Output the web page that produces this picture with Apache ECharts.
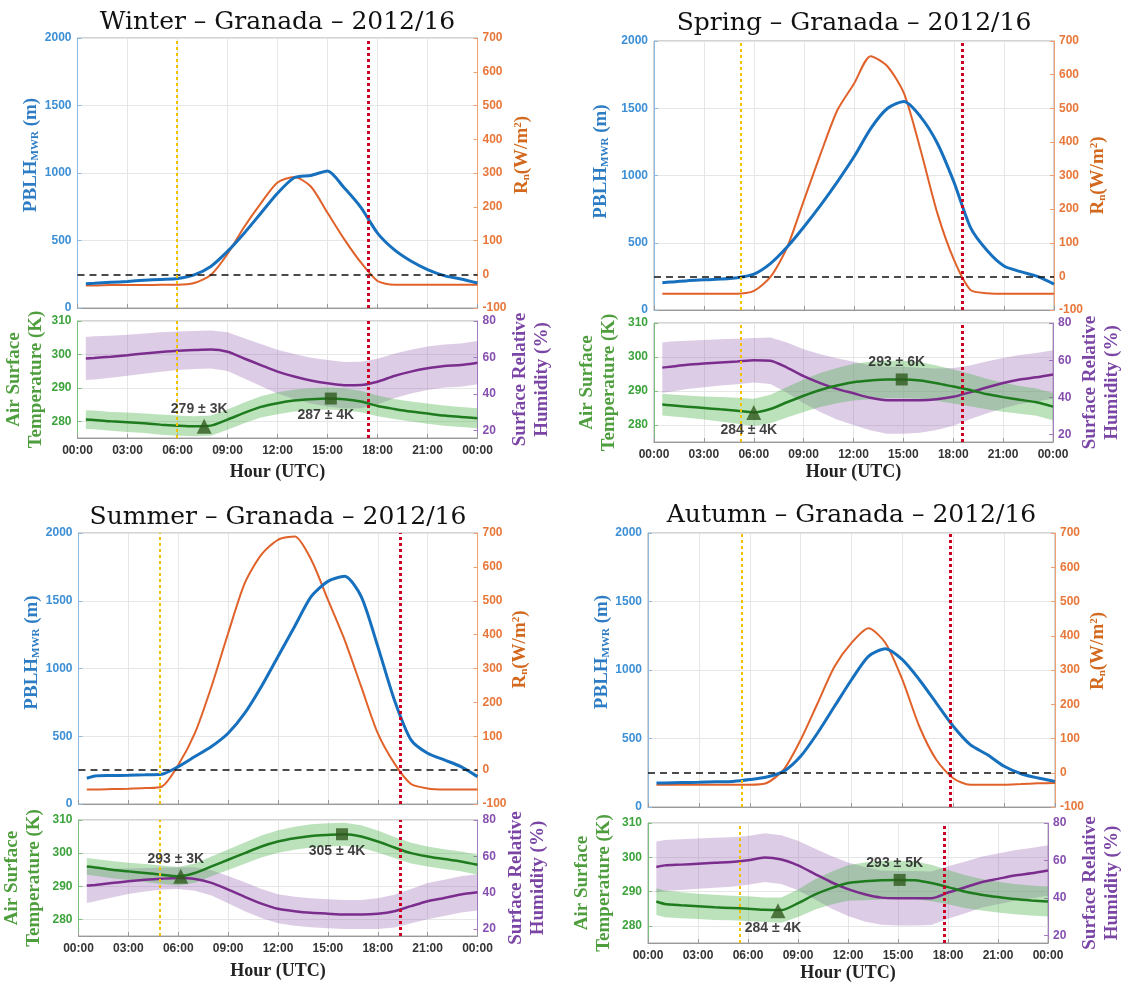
<!DOCTYPE html>
<html>
<head>
<meta charset="utf-8">
<title>PBLH, Rn, air temperature and RH – Granada 2012/16</title>
<script src="https://cdn.jsdelivr.net/npm/echarts@6.0.0/dist/echarts.min.js"></script>
<style>
  html, body { margin: 0; padding: 0; background: #fff; }
  #chart { width: 1124px; height: 983px; }
</style>
</head>
<body>
<div id="chart"></div>
<script>
// hour of day (UTC) of each point of the mean diurnal cycles
var hours = [0.5, 1, 2, 3, 4, 5, 6, 7, 8, 9, 10, 11, 12, 13, 14, 15, 16, 17, 18, 19, 20, 21, 22, 23, 24];
var hourTicks = ['00:00', '03:00', '06:00', '09:00', '12:00', '15:00', '18:00', '21:00', '00:00'];

// PBLH from the microwave radiometer (m)
var pblhWinter = [180, 183, 190, 197, 205, 212, 219, 246, 308, 419, 554, 702, 850, 965, 982, 1015, 890, 745, 555, 432, 348, 285, 240, 215, 185];
var pblhSpring = [203, 208, 218, 224, 230, 240, 267, 347, 470, 619, 780, 953, 1139, 1349, 1498, 1550, 1436, 1240, 950, 610, 440, 327, 285, 250, 193];
var pblhSummer = [190, 207, 210, 212, 215, 219, 276, 350, 424, 522, 670, 867, 1089, 1310, 1532, 1643, 1680, 1532, 1163, 768, 473, 374, 325, 276, 202];
var pblhAutumn = [175, 176, 178, 180, 184, 187, 200, 219, 260, 370, 540, 735, 929, 1100, 1155, 1075, 929, 759, 589, 455, 383, 297, 243, 212, 187];

// net radiation Rn (W/m2)
var rnWinter = [-33, -33, -32, -32, -32, -31, -31, -26, -2, 60, 140, 210, 272, 288, 260, 182, 104, 35, -20, -31, -31, -31, -31, -31, -31];
var rnSpring = [-52, -52, -52, -52, -52, -52, -43, -1, 88, 227, 365, 494, 573, 655, 625, 544, 375, 188, 49, -41, -50, -52, -52, -52, -52];
var rnSummer = [-57, -57, -56, -55, -53, -49, 15, 109, 247, 404, 552, 636, 680, 690, 621, 503, 385, 247, 109, 20, -41, -54, -57, -57, -57];
var rnAutumn = [-35, -35, -35, -35, -35, -35, -35, -30, 9, 96, 203, 310, 379, 422, 379, 272, 135, 38, -16, -35, -35, -35, -33, -31, -30];

// air surface temperature (K) and its standard deviation
var tempWinter = [280.5, 280.4, 280.0, 279.7, 279.4, 279.0, 278.7, 278.5, 278.7, 280.5, 282.5, 284.3, 285.4, 286.2, 286.6, 286.8, 286.6, 285.9, 284.6, 283.7, 282.9, 282.3, 281.7, 281.3, 280.9];
var tempSdWinter = [2.8, 2.8, 2.8, 2.9, 2.9, 3, 3, 3, 3, 3, 3.1, 3.2, 3.3, 3.3, 3.3, 3.3, 3.3, 3.2, 3.1, 3, 3, 3, 3, 3, 3];
var tempSpring = [286, 285.8, 285.4, 285, 284.6, 284.2, 283.7, 284.7, 286.7, 288.6, 290.3, 291.6, 292.6, 293.1, 293.4, 293.4, 293.1, 292.3, 291.3, 290.3, 289.1, 288.2, 287.4, 286.7, 285.4];
var tempSdSpring = [3.2, 3.2, 3.3, 3.4, 3.6, 3.8, 4, 4.2, 4.5, 4.8, 5, 5.2, 5.4, 5.5, 5.5, 5.5, 5.4, 5.2, 5, 4.8, 4.5, 4.3, 4.1, 4, 4];
var tempSummer = [296, 295.7, 295, 294.5, 294, 293.5, 293, 294, 296, 298, 300, 302, 303.5, 304.5, 305.2, 305.5, 305.7, 305, 303.5, 301.7, 300, 299, 298.2, 297.5, 296.5];
var tempSdSummer = [2.5, 2.5, 2.6, 2.6, 2.7, 2.8, 2.8, 2.9, 3, 3.1, 3.2, 3.3, 3.4, 3.5, 3.5, 3.5, 3.5, 3.4, 3.3, 3.2, 3.1, 3, 3, 3, 3];
var tempAutumn = [287.1, 286.4, 286, 285.7, 285.4, 285.2, 285, 284.7, 284.6, 286.6, 289.1, 291, 292.5, 293, 293.3, 293.4, 293.3, 292.5, 291.3, 290, 289.1, 288.4, 287.8, 287.4, 287.1];
var tempSdAutumn = [3.9, 3.9, 3.8, 3.7, 3.7, 3.6, 3.6, 3.6, 3.7, 4, 4.4, 4.8, 5.2, 5.5, 5.6, 5.6, 5.5, 5.3, 5, 4.8, 4.6, 4.5, 4.4, 4.4, 4.4];

// surface relative humidity (%) and its standard deviation
var rhWinter = [59.5, 59.8, 60.5, 61.3, 62.2, 63, 63.7, 64.1, 64.4, 63.2, 59.5, 55.9, 52.3, 49.6, 47.4, 45.9, 44.9, 45.0, 46.8, 49.9, 52.3, 54.1, 55.4, 55.9, 57.2];
var rhSdWinter = [11.8, 11.8, 11.5, 11.2, 11, 10.8, 10.5, 10.4, 10.4, 10.6, 11, 11.5, 12, 12.3, 12.5, 12.7, 12.7, 12.7, 12.5, 12.2, 12, 11.9, 11.8, 11.8, 11.8];
var rhSpring = [56, 56.5, 57.5, 58.2, 58.8, 59.3, 60, 59.7, 56, 51.4, 47.7, 44.6, 42.2, 39.8, 38.5, 38.5, 38.5, 39, 40.3, 42.7, 45.3, 47.7, 49.6, 50.8, 52.3];
var rhSdSpring = [13.5, 13.5, 13, 12.7, 12.4, 12.2, 12, 12.5, 13.5, 14.5, 15.5, 16.5, 17, 17.5, 18, 18, 17.5, 16.5, 15.5, 14.5, 14, 13.5, 13.2, 13, 13];
var rhSummer = [43.8, 44.2, 45.2, 46.2, 47, 47.6, 48, 47.5, 45.3, 41.6, 37.6, 33.9, 31, 29.7, 28.8, 28.3, 27.9, 27.9, 28.3, 29.7, 32.5, 35.2, 37, 38.9, 40.1];
var rhSdSummer = [9.6, 9, 8, 7, 6.5, 6, 6, 6.5, 7, 7.5, 8, 8, 8, 8, 8, 8, 8, 8, 8.5, 9, 9.5, 10, 10, 10, 10];
var rhAutumn = [56.5, 57.4, 57.8, 58.3, 58.8, 59.2, 60.1, 61.6, 60.5, 57.4, 52.9, 48.4, 44.7, 42, 40.2, 39.9, 39.9, 39.9, 42.9, 45.6, 48.4, 50.2, 52, 53.2, 54.7];
var rhSdAutumn = [13.6, 13.6, 13.5, 13.4, 13.3, 13.2, 13, 13, 13, 13.2, 13.5, 14, 14.3, 14.5, 14.5, 14.5, 14.5, 14.3, 14, 13.8, 13.6, 13.5, 13.5, 13.5, 13.5];

// sunrise / sunset (hour UTC), order: winter, spring, summer, autumn
var sunrise = [5.98, 5.2, 4.9, 5.5];
var sunset = [17.45, 18.52, 19.33, 17.8];

// temperature minimum (triangle) and maximum (square)
var tMinHour = [7.6, 6.0, 6.15, 7.8];
var tMinValue = [278.5, 283.7, 293.0, 284.4];
var tMinLabel = ['279 ± 3K', '284 ± 4K', '293 ± 3K', '284 ± 4K'];
var tMaxHour = [15.2, 14.9, 15.85, 15.1];
var tMaxValue = [286.8, 293.4, 305.7, 293.4];
var tMaxLabel = ['287 ± 4K', '293 ± 6K', '305 ± 4K', '293 ± 5K'];

var seasonNames = ['Winter', 'Spring', 'Summer', 'Autumn'];

var seasons = [
  { pblh: pblhWinter, rn: rnWinter, t: tempWinter, tSd: tempSdWinter, rh: rhWinter, rhSd: rhSdWinter },
  { pblh: pblhSpring, rn: rnSpring, t: tempSpring, tSd: tempSdSpring, rh: rhSpring, rhSd: rhSdSpring },
  { pblh: pblhSummer, rn: rnSummer, t: tempSummer, tSd: tempSdSummer, rh: rhSummer, rhSd: rhSdSummer },
  { pblh: pblhAutumn, rn: rnAutumn, t: tempAutumn, tSd: tempSdAutumn, rh: rhAutumn, rhSd: rhSdAutumn }
];

// panel placement (pixels)
var layout = [
  { left: 77.5, width: 400, top1: 38, h1: 270, top2: 321, h2: 117, tx: 277.5, ty: 22,
    gPblh: 34, gRn: 35, gT: 29, gRh: 32, gHour: 25, sPblh: 18, sRn: 18 },
  { left: 654, width: 400, top1: 41, h1: 269, top2: 323, h2: 119, tx: 854, ty: 23,
    gPblh: 43, gRn: 35, gT: 34, gRh: 26, gHour: 21, sPblh: 14, sRn: 0 },
  { left: 78.5, width: 399, top1: 533, h1: 271, top2: 820, h2: 116, tx: 278, ty: 517,
    gPblh: 37, gRn: 32, gT: 33, gRh: 28, gHour: 26, sPblh: 16, sRn: 19 },
  { left: 648, width: 407, top1: 533, h1: 274, top2: 823, h2: 120, tx: 851.5, ty: 515,
    gPblh: 35, gRn: 34, gT: 33, gRh: 31, gHour: 21, sPblh: 18, sRn: 19 }
];

var SERIF = '"Liberation Serif", "Times New Roman", serif';
var TITLE_FONT = '"DejaVu Serif", serif';
var SANS = '"Liberation Sans", Arial, sans-serif';
var C = {
  blue: '#1670BE', blueLab: '#3D8FD6', blueName: '#2E7DC4', blueAxis: '#8DB8E0',
  orange: '#E0622A', orangeLab: '#E8773A', orangeName: '#D2691E', orangeAxis: '#F0A070',
  green: '#1E7B1E', greenBand: 'rgba(80,178,80,0.38)', greenLab: '#3DA33D', greenName: '#4E9E3E', greenAxis: '#7CBF7C',
  purple: '#7B2D8E', purpleBand: 'rgba(150,95,178,0.32)', purpleLab: '#8650B0', purpleName: '#7B45A5', purpleAxis: '#A37CC0',
  marker: '#2F5A1E', grid: '#e6e6e6', frame: '#a8a8a8',
  sunrise: '#F2C200', sunset: '#CC0022'
};

function pairs(ys) {
  return hours.map(function (h, i) { return [h, ys[i]]; });
}

function hourLabel(v) {
  return hourTicks[Math.round(v / 3)];
}

function plainNumber(v) {
  return String(v);
}

function bandSeries(xi, yi, mean, sd, color) {
  var data = hours.map(function (h, i) { return [h, mean[i] - sd[i], mean[i] + sd[i]]; });
  return {
    type: 'custom', xAxisIndex: xi, yAxisIndex: yi, silent: true, clip: true, z: 1,
    data: data,
    renderItem: function (params, api) {
      if (params.dataIndex !== 0) return null;
      var upper = [], lower = [];
      for (var i = 0; i < data.length; i++) {
        upper.push(api.coord([data[i][0], data[i][2]]));
        lower.push(api.coord([data[i][0], data[i][1]]));
      }
      return { type: 'polygon', shape: { points: upper.concat(lower.reverse()) }, style: { fill: color } };
    }
  };
}

function sunLines(k) {
  return [
    { xAxis: sunrise[k], lineStyle: { color: C.sunrise, type: [3, 3], width: 2 } },
    { xAxis: sunset[k], lineStyle: { color: C.sunset, type: [3, 3], width: 3 } }
  ];
}

var option = {
  animation: false,
  backgroundColor: '#fff',
  grid: [], xAxis: [], yAxis: [], series: [], graphic: []
};

seasons.forEach(function (d, k) {
  var L = layout[k];
  var g1 = 2 * k, g2 = 2 * k + 1;
  var y0 = 4 * k;

  option.grid.push(
    { left: L.left, top: L.top1, width: L.width, height: L.h1, show: true, borderColor: C.frame, borderWidth: 1 },
    { left: L.left, top: L.top2, width: L.width, height: L.h2, show: true, borderColor: C.frame, borderWidth: 1 }
  );

  var xBase = {
    type: 'value', min: 0, max: 24, interval: 3,
    axisLine: { lineStyle: { color: '#999' } },
    axisTick: { inside: true, length: 4, lineStyle: { color: '#999' } },
    splitLine: { show: true, lineStyle: { color: C.grid } }
  };
  option.xAxis.push(
    Object.assign({ gridIndex: g1, axisLabel: { show: false } }, xBase),
    Object.assign({
      gridIndex: g2,
      name: 'Hour (UTC)', nameLocation: 'middle', nameGap: L.gHour,
      nameTextStyle: { fontFamily: SERIF, fontWeight: 'bold', fontSize: 18, color: '#222' },
      axisLabel: {
        formatter: hourLabel, fontFamily: SANS, fontWeight: 'bold', fontSize: 12, color: '#333',
        margin: 7, showMinLabel: true, showMaxLabel: true, hideOverlap: false
      }
    }, xBase)
  );

  option.yAxis.push(
    {
      gridIndex: g1, type: 'value', position: 'left', min: 0, max: 2000, interval: 500,
      name: '{m|PBLH}{s|MWR}{m| (m)}', nameLocation: 'middle', nameRotate: 90, nameGap: L.gPblh,
      nameTextStyle: {
        padding: [0, 0, 0, 2 * L.sPblh],
        rich: {
          m: { fontFamily: SERIF, fontWeight: 'bold', fontSize: 19, color: C.blueName },
          s: { fontFamily: SERIF, fontWeight: 'bold', fontSize: 11, color: C.blueName, verticalAlign: 'bottom' }
        }
      },
      axisLine: { show: true, lineStyle: { color: C.blueAxis } },
      axisTick: { show: true, inside: true, length: 4, lineStyle: { color: C.blueAxis } },
      axisLabel: { formatter: plainNumber, fontFamily: SANS, fontWeight: 'bold', fontSize: 12, color: C.blueLab, margin: 6 },
      splitLine: { show: true, lineStyle: { color: C.grid } }
    },
    {
      gridIndex: g1, type: 'value', position: 'right', min: -100, max: 700, interval: 100,
      name: '{m|R}{s|n}{m|(W/m}{p|2}{m|)}', nameLocation: 'middle', nameRotate: 90, nameGap: L.gRn,
      nameTextStyle: {
        padding: [0, 0, 0, 2 * L.sRn],
        rich: {
          m: { fontFamily: SERIF, fontWeight: 'bold', fontSize: 19, color: C.orangeName },
          s: { fontFamily: SERIF, fontWeight: 'bold', fontSize: 11, color: C.orangeName, verticalAlign: 'bottom' },
          p: { fontFamily: SERIF, fontWeight: 'bold', fontSize: 11, color: C.orangeName, verticalAlign: 'top' }
        }
      },
      axisLine: { show: true, lineStyle: { color: C.orangeAxis } },
      axisTick: { show: true, inside: true, length: 4, lineStyle: { color: C.orangeAxis } },
      axisLabel: { formatter: plainNumber, fontFamily: SANS, fontWeight: 'bold', fontSize: 12, color: C.orangeLab, margin: 5 },
      splitLine: { show: false }
    },
    {
      gridIndex: g2, type: 'value', position: 'left', min: 275, max: 310,
      name: 'Air Surface\nTemperature (K)', nameLocation: 'middle', nameRotate: 90, nameGap: L.gT,
      nameTextStyle: { fontFamily: SERIF, fontWeight: 'bold', fontSize: 19, lineHeight: 22, color: C.greenName },
      axisLine: { show: true, lineStyle: { color: C.greenAxis } },
      axisTick: { show: true, inside: true, length: 4, customValues: [280, 290, 300, 310], lineStyle: { color: C.greenAxis } },
      axisLabel: { customValues: [280, 290, 300, 310], fontFamily: SANS, fontWeight: 'bold', fontSize: 12, color: C.greenLab, margin: 6 },
      splitLine: { show: true, lineStyle: { color: C.grid } }
    },
    {
      gridIndex: g2, type: 'value', position: 'right', min: 16, max: 80,
      name: 'Surface Relative\nHumidity (%)', nameLocation: 'middle', nameRotate: 90, nameGap: L.gRh,
      nameTextStyle: { fontFamily: SERIF, fontWeight: 'bold', fontSize: 19, lineHeight: 22, color: C.purpleName },
      axisLine: { show: true, lineStyle: { color: C.purpleAxis } },
      axisTick: { show: true, inside: true, length: 4, customValues: [20, 40, 60, 80], lineStyle: { color: C.purpleAxis } },
      axisLabel: { customValues: [20, 40, 60, 80], fontFamily: SANS, fontWeight: 'bold', fontSize: 12, color: C.purpleLab, margin: 5 },
      splitLine: { show: false }
    }
  );

  // upper panel: PBLH and net radiation
  option.series.push(
    {
      type: 'line', xAxisIndex: g1, yAxisIndex: y0 + 1, data: pairs(d.rn),
      showSymbol: false, smooth: 0.25, z: 3,
      lineStyle: { color: C.orange, width: 2 },
      markLine: {
        silent: true, symbol: 'none', label: { show: false },
        data: [{ yAxis: 0, lineStyle: { color: '#111', type: [7, 5], width: 1.6 } }].concat(sunLines(k))
      }
    },
    {
      type: 'line', xAxisIndex: g1, yAxisIndex: y0, data: pairs(d.pblh),
      showSymbol: false, smooth: 0.25, z: 3,
      lineStyle: { color: C.blue, width: 3 }
    }
  );

  // lower panel: temperature and relative humidity with ±1 sd bands
  option.series.push(
    bandSeries(g2, y0 + 3, d.rh, d.rhSd, C.purpleBand),
    bandSeries(g2, y0 + 2, d.t, d.tSd, C.greenBand),
    {
      type: 'line', xAxisIndex: g2, yAxisIndex: y0 + 3, data: pairs(d.rh),
      showSymbol: false, smooth: 0.25, z: 3,
      lineStyle: { color: C.purple, width: 2.5 },
      markLine: { silent: true, symbol: 'none', label: { show: false }, data: sunLines(k) }
    },
    {
      type: 'line', xAxisIndex: g2, yAxisIndex: y0 + 2, data: pairs(d.t),
      showSymbol: false, smooth: 0.25, z: 3,
      lineStyle: { color: C.green, width: 2.5 }
    },
    {
      type: 'scatter', xAxisIndex: g2, yAxisIndex: y0 + 2, z: 5,
      itemStyle: { color: C.marker },
      label: { show: true, fontFamily: SANS, fontWeight: 'bold', fontSize: 14, color: '#111' },
      data: [
        {
          value: [tMinHour[k], tMinValue[k]], symbol: 'triangle', symbolSize: 15,
          label: { position: (k === 0 || k === 2) ? 'top' : 'bottom', distance: 3, offset: [-5, 0], formatter: tMinLabel[k] }
        },
        {
          value: [tMaxHour[k], tMaxValue[k]], symbol: 'rect', symbolSize: 12,
          label: { position: (k === 0 || k === 2) ? 'bottom' : 'top', distance: 4, offset: [-5, 0], formatter: tMaxLabel[k] }
        }
      ]
    }
  );

  option.graphic.push({
    type: 'text', x: L.tx, y: L.ty, silent: true,
    style: {
      text: seasonNames[k] + ' – Granada – 2012/16', fill: '#111',
      font: '25px ' + TITLE_FONT, align: 'center', verticalAlign: 'middle'
    }
  });
});

var chart = echarts.init(document.getElementById('chart'), null, { renderer: 'canvas' });
chart.setOption(option);
</script>
</body>
</html>
